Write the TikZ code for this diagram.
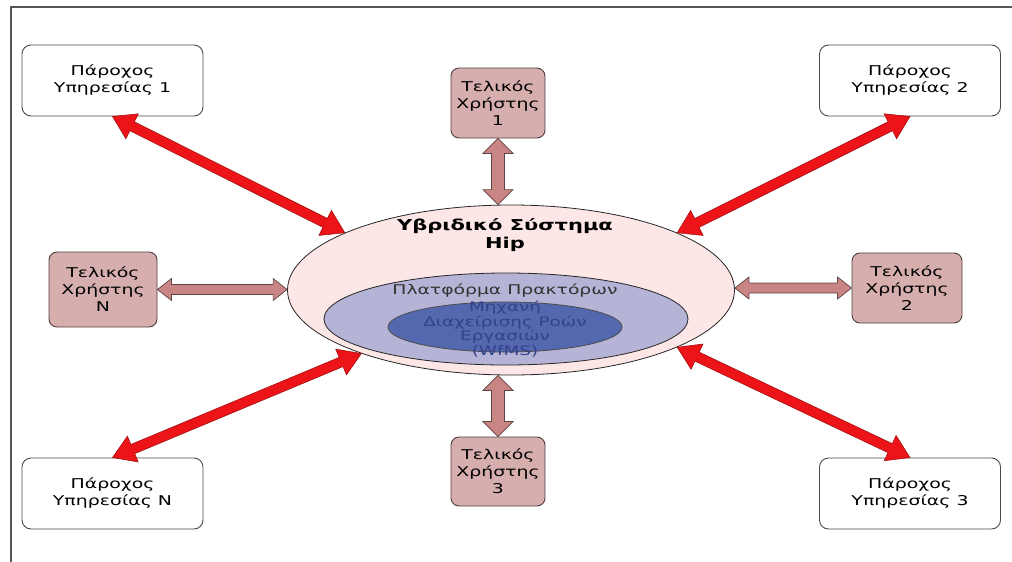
\documentclass[tikz,border=0pt]{standalone}
\usepackage{fontspec}
\setmainfont{DejaVu Sans}[FakeStretch=1.4]
\usetikzlibrary{calc,shapes.geometric}

\definecolor{framegray}{HTML}{555555}
\definecolor{boxedge}{HTML}{4A4A4A}
\definecolor{userfill}{HTML}{D6AEAE}
\definecolor{useredge}{HTML}{4E3E3E}
\definecolor{hybfill}{HTML}{FCE6E6}
\definecolor{agentfill}{HTML}{B6B4D6}
\definecolor{wfmsfill}{HTML}{5468B0}
\definecolor{wfmstext}{HTML}{33428A}
\definecolor{redfill}{HTML}{EC1419}
\definecolor{rededge}{HTML}{9A0A0A}
\definecolor{brownfill}{HTML}{C98484}
\definecolor{brownedge}{HTML}{5E4444}

% double-headed block arrow between two points:
% #1 style, #2 start, #3 end, #4 head length, #5 head half width, #6 shaft half width
\newcommand{\fatarrow}[6]{%
  \draw[#1] (#2)
    -- ($(#2)!#4!(#3)!#5!90:(#3)$)
    -- ($(#2)!#4!(#3)!#6!90:(#3)$)
    -- ($(#3)!#4!(#2)!#6!-90:(#2)$)
    -- ($(#3)!#4!(#2)!#5!-90:(#2)$)
    -- (#3)
    -- ($(#3)!#4!(#2)!#5!90:(#2)$)
    -- ($(#3)!#4!(#2)!#6!90:(#2)$)
    -- ($(#2)!#4!(#3)!#6!-90:(#3)$)
    -- ($(#2)!#4!(#3)!#5!-90:(#3)$)
    -- cycle;}

\tikzset{
  provider/.style={draw=boxedge, line width=0.9pt, fill=white, rounded corners=9pt,
    minimum width=181pt, minimum height=71pt, inner sep=0pt, align=center,
    font=\fontsize{13.5}{17}\selectfont},
  enduser/.style={draw=useredge, line width=0.9pt, fill=userfill, rounded corners=8pt,
    inner sep=0pt, align=center, font=\fontsize{13.5}{17}\selectfont},
  layer/.style={ellipse, draw=black!85, line width=0.8pt, inner sep=0pt},
  redarrow/.style={fill=redfill, draw=rededge, line width=0.5pt, line join=miter},
  brownarrow/.style={fill=brownfill, draw=brownedge, line width=0.7pt, line join=miter},
}

\begin{document}
\begin{tikzpicture}[x=1pt, y=-1pt]
\useasboundingbox (0,0) rectangle (1012,562);

% page frame (top and left edges)
\draw[framegray, line width=1.3pt] (11,562) -- (11,7) -- (1012,7);

% central system: three nested layers
\node[layer, fill=hybfill, minimum width=447pt, minimum height=170pt] (hyb) at (511,290) {};
\node[layer, fill=agentfill, minimum width=364pt, minimum height=92pt] (agent) at (506,319) {};
\node[layer, fill=wfmsfill, draw=black!70, minimum width=234pt, minimum height=50pt] (wfms) at (505,327) {};

\node[font=\bfseries\fontsize{15}{18}\selectfont, align=center] (hybtxt) at (505,235)
  {Υβριδικό Σύστημα\\Hip};
\node[font=\fontsize{13.4}{15}\selectfont, text=black!80] (agenttxt) at (505,291)
  {Πλατφόρμα Πρακτόρων};
\node[font=\fontsize{13.1}{14.6}\selectfont, text=wfmstext, align=center] (wfmstxt) at (505,329)
  {Μηχανή\\Διαχείρισης Ροών\\Εργασιών\\(WfMS)};

% service providers
\node[provider] (p1) at (112.5,80.5) {Πάροχος\\Υπηρεσίας 1};
\node[provider] (p2) at (910,80.5) {Πάροχος\\Υπηρεσίας 2};
\node[provider] (pN) at (112.5,493.5) {Πάροχος\\Υπηρεσίας Ν};
\node[provider] (p3) at (910,493.5) {Πάροχος\\Υπηρεσίας 3};

% end users
\node[enduser, minimum width=94pt, minimum height=70pt] (u1) at (498,103) {Τελικός\\Χρήστης\\1};
\node[enduser, minimum width=94pt, minimum height=69pt] (u3) at (498,471.5) {Τελικός\\Χρήστης\\3};
\node[enduser, minimum width=108pt, minimum height=75pt] (uN) at (103,289.5) {Τελικός\\Χρήστης\\Ν};
\node[enduser, minimum width=110pt, minimum height=70pt] (u2) at (907,288) {Τελικός\\Χρήστης\\2};

% arrow ends on the outer layer
\coordinate (t1) at (u1.south |- hyb.north);
\coordinate (t3) at (u3.north |- hyb.south);
\coordinate (tN) at (hyb.west |- uN.east);
\coordinate (t2) at (hyb.east |- u2.west);

% provider links
\fatarrow{redarrow}{p1.south}{hyb.161}{22pt}{14pt}{5pt}
\fatarrow{redarrow}{p2.south}{hyb.19.5}{22pt}{14pt}{5pt}
\fatarrow{redarrow}{pN.north}{hyb.203.5}{22pt}{14pt}{5pt}
\fatarrow{redarrow}{p3.north}{hyb.341}{22pt}{14pt}{5pt}

% end-user links
\fatarrow{brownarrow}{u1.south}{t1}{15pt}{15pt}{6.5pt}
\fatarrow{brownarrow}{u3.north}{t3}{15pt}{15pt}{6.5pt}
\fatarrow{brownarrow}{uN.east}{tN}{14pt}{11pt}{5pt}
\fatarrow{brownarrow}{t2}{u2.west}{14pt}{11pt}{5pt}
\end{tikzpicture}
\end{document}
